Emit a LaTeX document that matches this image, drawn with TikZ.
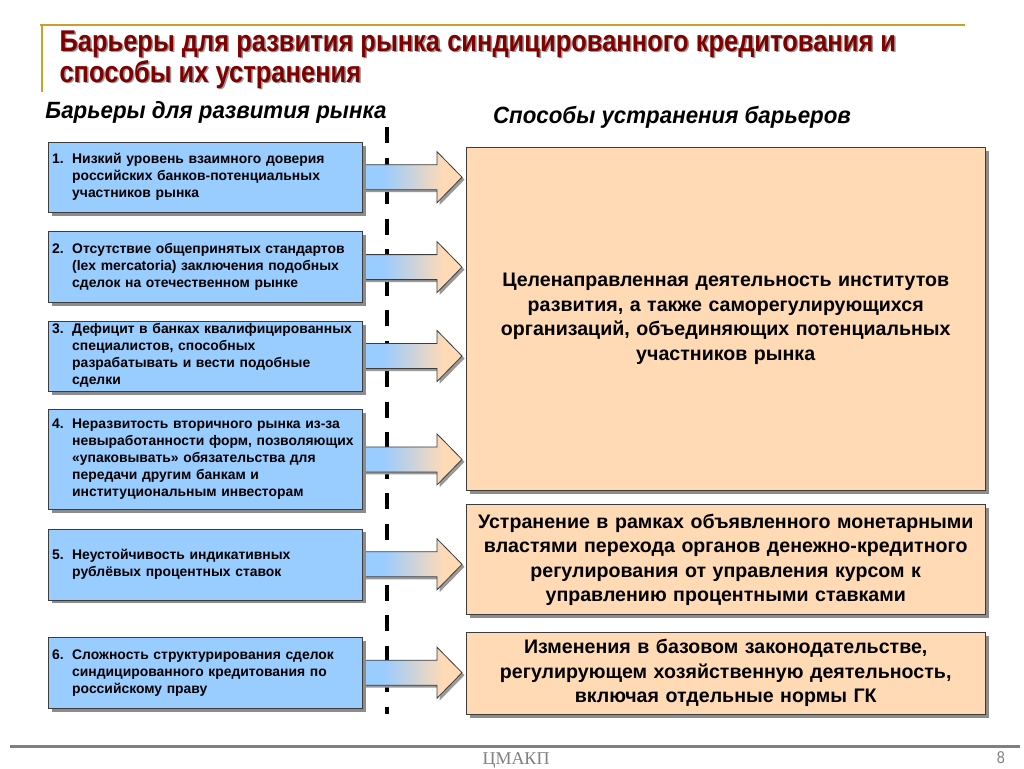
\documentclass[tikz,border=0pt]{standalone}
\usepackage{fontspec}
\setmainfont{Liberation Sans}
\newfontfamily\titlefont[FakeStretch=0.85]{Liberation Sans}
\newfontfamily\headfont[FakeStretch=0.95]{Liberation Sans}
\newfontfamily\footfont{Liberation Serif}
\usepackage{tikz}
\usetikzlibrary{positioning, calc, shadows, backgrounds}

\definecolor{barrierblue}{RGB}{153,204,255}
\definecolor{waypeach}{RGB}{255,218,181}
\definecolor{titlered}{RGB}{128,0,0}
\definecolor{rulegold}{RGB}{204,160,40}
\definecolor{edgegray}{RGB}{60,60,60}
\definecolor{footgray}{RGB}{128,128,128}

\pgfdeclarehorizontalshading{flowshade}{100bp}{color(0bp)=(barrierblue); color(36bp)=(barrierblue); color(66bp)=(waypeach); color(100bp)=(waypeach)}

\newcommand{\barrier}[2]{\makebox[20pt][l]{#1.}\begin{tabular}[t]{@{}l@{}}#2\end{tabular}}

\begin{document}
\begin{tikzpicture}[x=1pt, y=-1pt,
  boxshadow/.style={drop shadow={shadow xshift=3.5pt, shadow yshift=-3.5pt, opacity=1, fill=black!45}},
  barrierbox/.style={rectangle, draw=edgegray, fill=barrierblue, boxshadow, minimum width=314pt, text width=306pt, inner xsep=4pt, inner ysep=0.5pt, align=left, font=\fontsize{13.9}{17}\selectfont\bfseries},
  waybox/.style={rectangle, draw=edgegray, fill=waypeach, boxshadow, minimum width=519pt, text width=510pt, inner ysep=0.5pt, align=center, font=\fontsize{19.6}{24.5}\selectfont\bfseries},
  flow/.style={draw=edgegray, line width=0.8pt, shading=flowshade, shading angle=0, drop shadow={shadow xshift=2.5pt, shadow yshift=-2.5pt, opacity=1, fill=black!40}},
  divider/.style={line width=4pt, dash pattern=on 16pt off 14.5pt},
  heading/.style={font=\headfont\fontsize{23.5}{27}\selectfont\bfseries\itshape}
]
  \useasboundingbox (0,0) rectangle (1024,768);

  % title
  \draw[rulegold, line width=2pt] (40,25) -- (965,25);
  \draw[rulegold, line width=2pt] (42,25) -- (42,92);
  \node[anchor=north west, align=left, text=black!40, font=\titlefont\fontsize{30}{31}\selectfont\bfseries] (titleshadow) at (57.5,28.5)
    {Барьеры для развития рынка синдицированного кредитования и\\способы их устранения};
  \node[anchor=north west, align=left, text=titlered, font=\titlefont\fontsize{30}{31}\selectfont\bfseries] (title) at (56,27)
    {Барьеры для развития рынка синдицированного кредитования и\\способы их устранения};

  \node[heading] (lefthead) at (216,112) {Барьеры для развития рынка};
  \node[heading] (righthead) at (672,117) {Способы устранения барьеров};

  % barriers
  \node[barrierbox, anchor=north west, minimum height=70pt] (b1) at (48,142)
    {\barrier{1}{Низкий уровень взаимного доверия\\российских банков-потенциальных\\участников рынка}};
  \node[barrierbox, below=19pt of b1, minimum height=71pt] (b2)
    {\barrier{2}{Отсутствие общепринятых стандартов\\(lex mercatoria) заключения подобных\\сделок на отечественном рынке}};
  \node[barrierbox, below=18pt of b2, minimum height=70pt] (b3)
    {\barrier{3}{Дефицит в банках квалифицированных\\специалистов, способных\\разрабатывать и вести подобные\\сделки}};
  \node[barrierbox, below=18pt of b3, minimum height=100pt] (b4)
    {\barrier{4}{Неразвитость вторичного рынка из-за\\невыработанности форм, позволяющих\\«упаковывать» обязательства для\\передачи другим банкам и\\институциональным инвесторам}};
  \node[barrierbox, below=19pt of b4, minimum height=71pt] (b5)
    {\barrier{5}{Неустойчивость индикативных\\рублёвых процентных ставок}};
  \node[barrierbox, below=37pt of b5, minimum height=71pt] (b6)
    {\barrier{6}{Сложность структурирования сделок\\синдицированного кредитования по\\российскому праву}};

  % ways
  \node[waybox, anchor=north west, minimum height=343pt] (way1) at (466,147)
    {Целенаправленная деятельность институтов\\развития, а также саморегулирующихся\\организаций, объединяющих потенциальных\\участников рынка};
  \node[waybox, below=14pt of way1, minimum height=110pt] (way2)
    {Устранение в рамках объявленного монетарными\\властями перехода органов денежно-кредитного\\регулирования от управления курсом к\\управлению процентными ставками};
  \node[waybox, below=17pt of way2, minimum height=82pt] (way3)
    {Изменения в базовом законодательстве,\\регулирующем хозяйственную деятельность,\\включая отдельные нормы ГК};

  \begin{scope}[on background layer]
    \coordinate (divtop) at (387,127);
    \coordinate (divbot) at (387,714);
    \draw[divider] (divtop) -- (divbot);
    \foreach \s/\t in {b1/way1, b2/way1, b3/way1, b4/way1, b5/way2, b6/way3}
      \path[flow] ($(\s.east)+(-2,-12.5)$) -- ($(\s.east -| \t.west)+(-29,-12.5)$) -- ++(0,-13)
        -- ($(\s.east -| \t.west)+(-4,0)$) -- ($(\s.east -| \t.west)+(-29,25.5)$) -- ++(0,-13)
        -- ($(\s.east)+(-2,12.5)$) -- cycle;
  \end{scope}

  % footer
  \draw[footgray, line width=3pt] (10,746) -- (1020,746);
  \node[anchor=base, text=footgray, font=\footfont\fontsize{18}{20}\selectfont] (org) at (516,764) {ЦМАКП};
  \node[anchor=base, text=footgray, font=\titlefont\fontsize{17}{19}\selectfont] (page) at (1001,763) {8};
\end{tikzpicture}
\end{document}
